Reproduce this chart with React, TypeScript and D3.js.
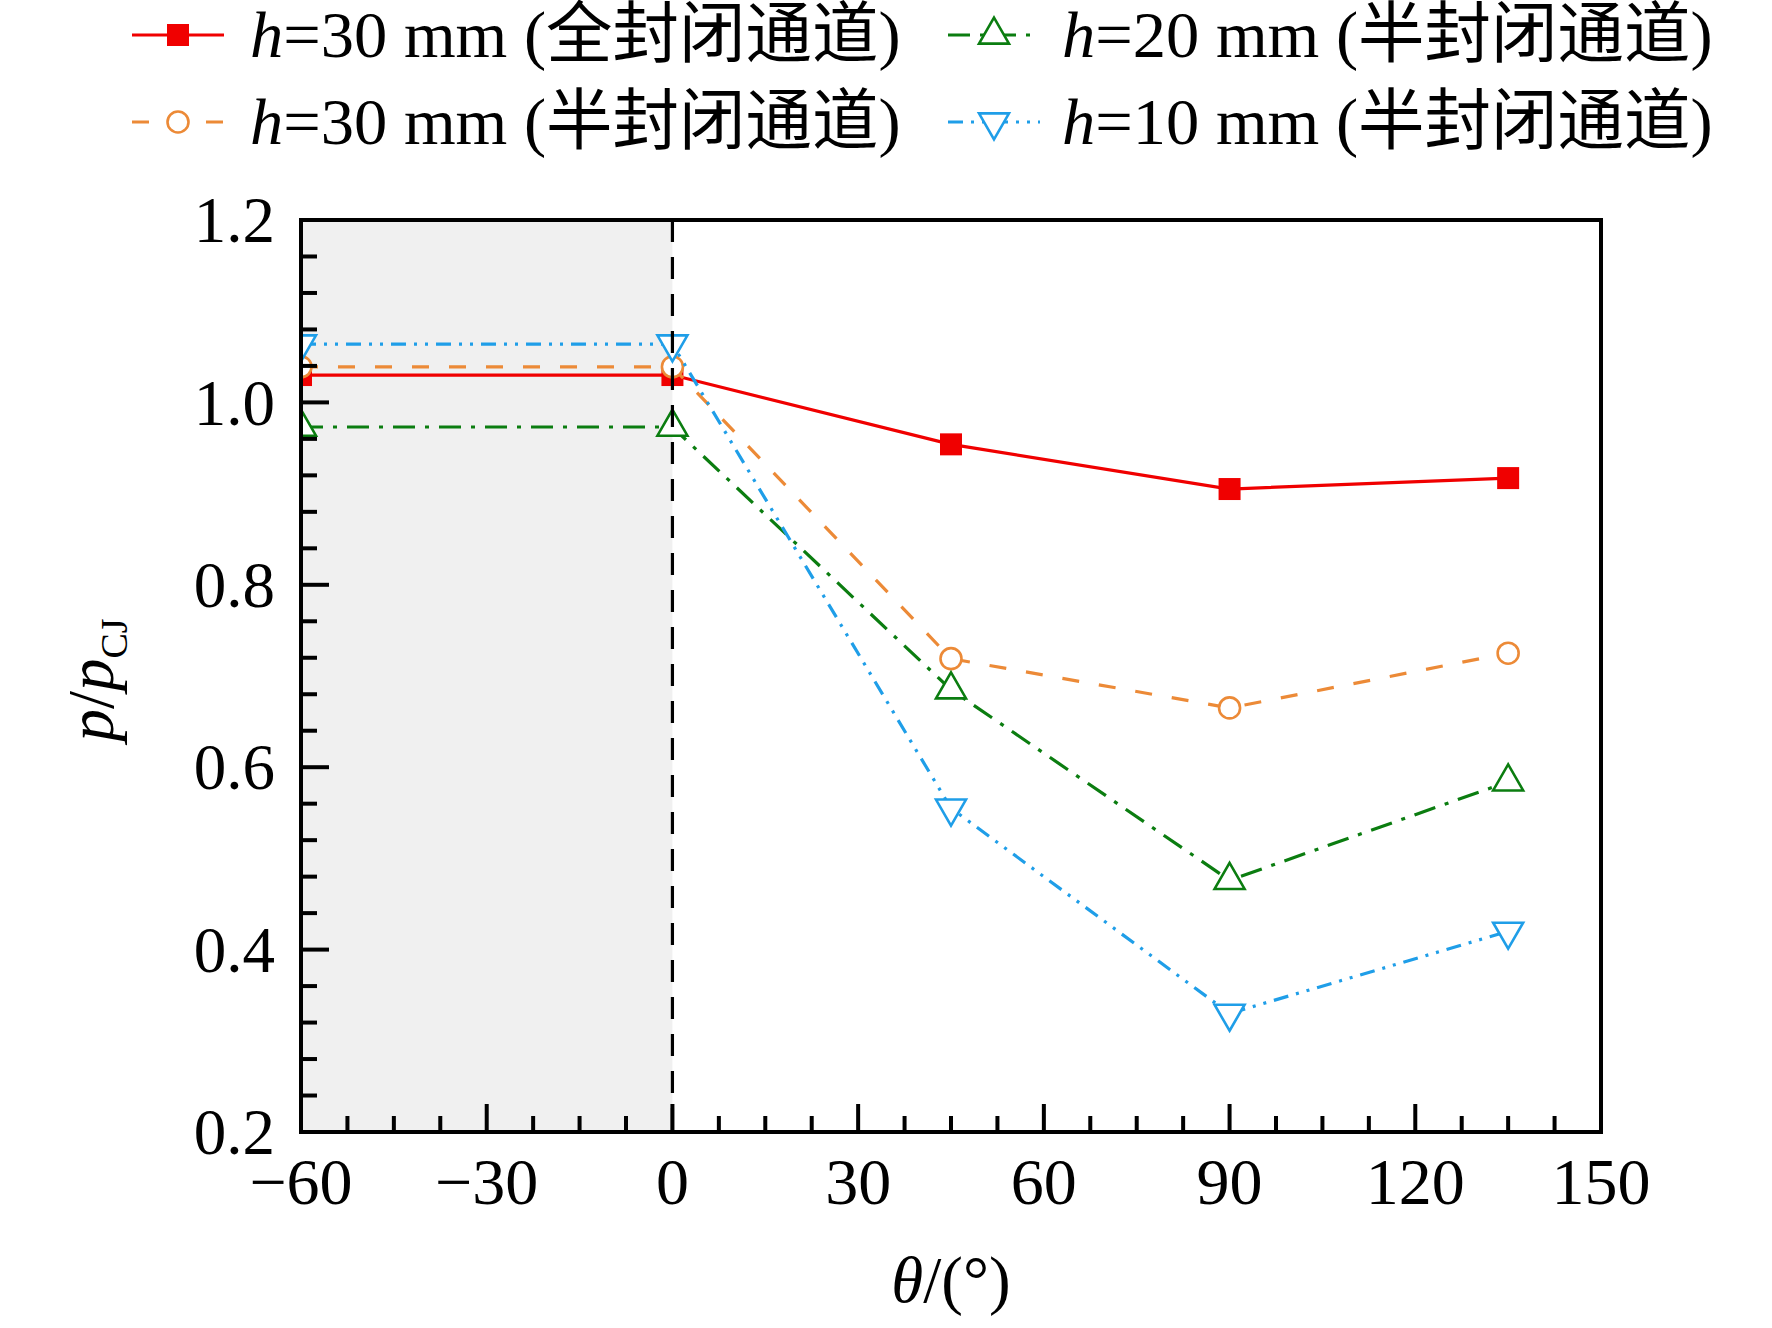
import React from "react";
import * as d3 from "d3";

// angle positions (deg)
const thetaValues = [-60, 0, 45, 90, 135];

// p / p_CJ for each channel
const closedH30 = [1.03, 1.03, 0.954, 0.905, 0.917];
const semiH30 = [1.039, 1.039, 0.719, 0.665, 0.725];
const semiH20 = [0.973, 0.973, 0.685, 0.476, 0.584];
const semiH10 = [1.064, 1.064, 0.555, 0.33, 0.42];

const seriesNames = [
  ["30", "全封闭通道"],
  ["30", "半封闭通道"],
  ["20", "半封闭通道"],
  ["10", "半封闭通道"],
];

const xTicks = [-60, -30, 0, 30, 60, 90, 120, 150];
const yTicks = [0.2, 0.4, 0.6, 0.8, 1.0, 1.2];

const W = 1772;
const H = 1328;
const SERIF = "'Liberation Serif', 'Times New Roman', 'Noto Sans CJK SC', serif";

type Marker = "square" | "circle" | "up" | "down";

const styles: { color: string; dash: string; marker: Marker }[] = [
  { color: "#f00000", dash: "none", marker: "square" },
  { color: "#ec8a37", dash: "17 20", marker: "circle" },
  { color: "#0b7d10", dash: "22 10 4 10", marker: "up" },
  { color: "#1f9ee8", dash: "15 8 3 8 3 8", marker: "down" },
];

const seriesValues = [closedH30, semiH30, semiH20, semiH10];

function MarkerShape({ kind, cx, cy, color }: { kind: Marker; cx: number; cy: number; color: string }) {
  const w = 30;
  const h = 26;
  if (kind === "square") {
    return <rect x={cx - 11} y={cy - 11} width={22} height={22} fill={color} />;
  }
  if (kind === "circle") {
    return <circle cx={cx} cy={cy} r={10.5} fill="#fff" stroke={color} strokeWidth={2.6} />;
  }
  const pts =
    kind === "up"
      ? [[cx, cy - (2 * h) / 3], [cx + w / 2, cy + h / 3], [cx - w / 2, cy + h / 3]]
      : [[cx, cy + (2 * h) / 3], [cx + w / 2, cy - h / 3], [cx - w / 2, cy - h / 3]];
  return (
    <polygon
      points={pts.map((p) => p.join(",")).join(" ")}
      fill="#fff"
      stroke={color}
      strokeWidth={2.6}
      strokeLinejoin="miter"
    />
  );
}

export default function App() {
  const left = 301;
  const right = 1601;
  const top = 220;
  const bottom = 1132;

  const x = d3.scaleLinear().domain([-60, 150]).range([left, right]);
  const y = d3.scaleLinear().domain([0.2, 1.2]).range([bottom, top]);

  const xMinor = d3.range(0, 29).map((i) => -60 + i * 7.5).filter((_, i) => i % 4 !== 0);
  const yMinor = d3.range(0, 26).map((i) => 0.2 + i * 0.04).filter((_, i) => i % 5 !== 0);

  const line = d3
    .line<[number, number]>()
    .x((d) => x(d[0]))
    .y((d) => y(d[1]));

  const fmtX = (v: number) => (v < 0 ? "\u2212" + Math.abs(v) : String(v));
  const fmtY = d3.format(".1f");

  // legend layout
  const legendCols = [{ lx: 132, mx: 178, tx: 250 }, { lx: 948, mx: 994, tx: 1062 }];
  const legendRows = [35, 122];
  const legendOrder = [
    { s: 0, c: 0, r: 0 },
    { s: 1, c: 0, r: 1 },
    { s: 2, c: 1, r: 0 },
    { s: 3, c: 1, r: 1 },
  ];

  return (
    <svg
      width={W}
      height={H}
      viewBox={`0 0 ${W} ${H}`}
      style={{ position: "absolute", left: 0, top: 0, background: "#fff" }}
      fontFamily={SERIF}
    >
      <rect x={0} y={0} width={W} height={H} fill="#fff" />
      <defs>
        <clipPath id="plotClip">
          <rect x={left} y={top} width={right - left} height={bottom - top} />
        </clipPath>
      </defs>

      {/* shaded region -60..0 */}
      <rect x={x(-60)} y={top} width={x(0) - x(-60)} height={bottom - top} fill="#f0f0f0" />

      {/* series */}
      <g clipPath="url(#plotClip)">
        {seriesValues.map((vals, si) => {
          const pts = thetaValues.map((t, i) => [t, vals[i]] as [number, number]);
          const st = styles[si];
          return (
            <g key={si}>
              <path
                d={line(pts) || ""}
                fill="none"
                stroke={st.color}
                strokeWidth={3.2}
                strokeDasharray={st.dash}
              />
              {pts.map((p, i) => (
                <MarkerShape key={i} kind={st.marker} cx={x(p[0])} cy={y(p[1])} color={st.color} />
              ))}
            </g>
          );
        })}
      </g>

      {/* dashed divider at 0 */}
      <line x1={x(0)} x2={x(0)} y1={top} y2={bottom} stroke="#000" strokeWidth={3.2} strokeDasharray="22 15" />

      {/* frame */}
      <rect x={left} y={top} width={right - left} height={bottom - top} fill="none" stroke="#000" strokeWidth={4} />

      {/* x ticks */}
      {xTicks.map((t) => (
        <g key={"xt" + t}>
          <line x1={x(t)} x2={x(t)} y1={bottom} y2={bottom - 28} stroke="#000" strokeWidth={4} />
          <text x={x(t)} y={1204} textAnchor="middle" fontSize={66}>
            {fmtX(t)}
          </text>
        </g>
      ))}
      {xMinor.map((t) => (
        <line key={"xm" + t} x1={x(t)} x2={x(t)} y1={bottom} y2={bottom - 16} stroke="#000" strokeWidth={4} />
      ))}

      {/* y ticks */}
      {yTicks.map((t) => (
        <g key={"yt" + t}>
          <line x1={left} x2={left + 28} y1={y(t)} y2={y(t)} stroke="#000" strokeWidth={4} />
          <text x={275} y={y(t)} dy="0.34em" textAnchor="end" fontSize={65}>
            {fmtY(t)}
          </text>
        </g>
      ))}
      {yMinor.map((t) => (
        <line key={"ym" + t} x1={left} x2={left + 16} y1={y(t)} y2={y(t)} stroke="#000" strokeWidth={4} />
      ))}

      {/* axis titles */}
      <text x={951} y={1302} textAnchor="middle" fontSize={65}>
        <tspan fontStyle="italic">θ</tspan>
        <tspan>/(°)</tspan>
      </text>
      <text transform="translate(113,680) rotate(-90)" textAnchor="middle" fontSize={65}>
        <tspan fontStyle="italic">p</tspan>
        <tspan>/</tspan>
        <tspan fontStyle="italic">p</tspan>
        <tspan fontSize={38} dy={14}>
          CJ
        </tspan>
      </text>

      {/* legend */}
      {legendOrder.map(({ s, c, r }) => {
        const col = legendCols[c];
        const ry = legendRows[r];
        const st = styles[s];
        return (
          <g key={"lg" + s}>
            <line
              x1={col.lx}
              x2={col.lx + 92}
              y1={ry}
              y2={ry}
              stroke={st.color}
              strokeWidth={3.2}
              strokeDasharray={st.dash}
            />
            <MarkerShape kind={st.marker} cx={col.mx} cy={ry} color={st.color} />
            <text x={col.tx} y={ry + 22} fontSize={66.5}>
              <tspan fontStyle="italic">h</tspan>
              <tspan>{`=${seriesNames[s][0]} mm (${seriesNames[s][1]})`}</tspan>
            </text>
          </g>
        );
      })}
    </svg>
  );
}
